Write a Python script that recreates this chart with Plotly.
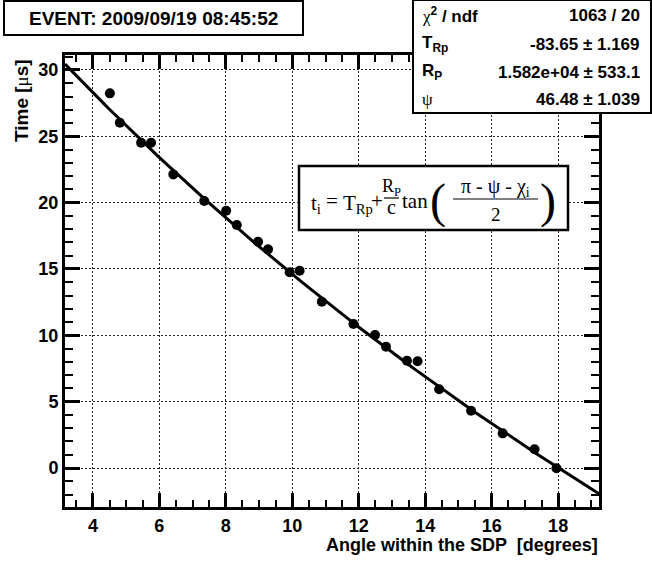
import numpy as np
import plotly.graph_objects as go

# ---- data ----
angle_deg = [4.51, 4.81, 5.45, 5.75, 6.42, 7.35, 8.01, 8.33, 8.97, 9.27, 9.92, 10.22,
             10.89, 11.84, 12.49, 12.82, 13.45, 13.77, 14.42, 15.38, 16.33, 17.29, 17.95]
time_us = [28.24, 26.02, 24.52, 24.52, 22.13, 20.12, 19.39, 18.31, 17.05, 16.48, 14.75, 14.87,
           12.53, 10.85, 10.02, 9.14, 8.09, 8.04, 5.93, 4.32, 2.61, 1.41, -0.02]

# fit parameters (from stats box)
T_Rp = -83.65
R_p = 1.582e4
psi = 46.48
c_m_per_us = 299.792458

stat_labels = ["<span style='font-family:Liberation Serif;font-weight:normal'>χ</span><sup>2</sup> / ndf",
               "T<sub>Rp</sub>", "R<sub>P</sub>",
               "<span style='font-family:Liberation Serif;font-weight:normal'>ψ</span>"]
stat_values = ["1063 / 20", "-83.65 ± 1.169", "1.582e+04 ± 533.1", "46.48 ± 1.039"]

x_ticks = [4, 6, 8, 10, 12, 14, 16, 18]
y_ticks = [0, 5, 10, 15, 20, 25, 30]
x_range = [3.16, 19.23]
y_range = [-2.94, 31.13]

# fit curve from the fitted parameters
xf = np.linspace(x_range[0], x_range[1], 300)
yf = T_Rp + R_p / c_m_per_us * np.tan(np.radians((180.0 - psi - xf) / 2.0))

W, H = 652, 561
L, R, T, B = 65, 599, 55, 507


def PX(p):
    return (p - L) / (R - L)


def PY(p):
    return (B - p) / (B - T)


fig = go.Figure()
fig.add_trace(go.Scatter(x=xf, y=yf, mode="lines", line=dict(color="black", width=3),
                         showlegend=False, hoverinfo="skip"))
fig.add_trace(go.Scatter(x=angle_deg, y=time_us, mode="markers",
                         marker=dict(color="black", size=10), showlegend=False))

axis_common = dict(
    showline=True, linecolor="black", linewidth=3, mirror="allticks",
    ticks="inside", tickwidth=3, tickcolor="black",
    showgrid=True, gridcolor="#222", gridwidth=1, griddash="2px,2px",
    zeroline=False,
    tickfont=dict(family="Liberation Sans", size=18, color="black", weight="bold"),
)

fig.update_xaxes(range=x_range, tickvals=x_ticks, ticklen=14,
                 minor=dict(dtick=0.5, tick0=0, ticks="inside", ticklen=7, tickwidth=2,
                            tickcolor="black", showgrid=False),
                 **axis_common)
fig.update_yaxes(range=y_range, tickvals=y_ticks, ticklen=15,
                 minor=dict(dtick=1, tick0=0, ticks="inside", ticklen=8, tickwidth=2,
                            tickcolor="black", showgrid=False),
                 **axis_common)

shapes = []
annotations = []


def note(x, y, text, size, family="Liberation Sans", weight="normal", xanchor="center",
         yanchor="middle", angle=0):
    annotations.append(dict(xref="paper", yref="paper", x=PX(x), y=PY(y), showarrow=False,
                            text=text, xanchor=xanchor, yanchor=yanchor, textangle=angle,
                            borderpad=0,
                            font=dict(family=family, size=size, color="black", weight=weight)))


def box(x0, x1, y0, y1, width=2):
    shapes.append(dict(type="rect", xref="paper", yref="paper", x0=PX(x0), x1=PX(x1),
                       y0=PY(y1), y1=PY(y0), line=dict(color="black", width=width),
                       fillcolor="white", layer="above"))


def hline(x0, x1, y, width=1.2):
    shapes.append(dict(type="line", xref="paper", yref="paper", x0=PX(x0), x1=PX(x1),
                       y0=PY(y), y1=PY(y), line=dict(color="black", width=width), layer="above"))


# Event box
box(4, 303, 1, 35)
note(153, 18, "EVENT: 2009/09/19 08:45:52", 19, weight="bold")

# Stats box
box(413, 651, 0, 113)
row_y = [15, 44, 72, 99]
for lab, val, ry in zip(stat_labels, stat_values, row_y):
    note(421, ry, lab, 17, weight="bold", xanchor="left")
    note(641, ry, val, 17, weight="bold", xanchor="right")

# Formula box
box(299, 568, 166, 230, width=2.5)
serif = "Liberation Serif"
note(310, 204, "t<sub>i</sub>", 21, family=serif, xanchor="left")
note(332, 201, "=", 21, family=serif)
note(342, 204, "T<sub>Rp</sub>", 21, family=serif, xanchor="left")
note(377, 201, "+", 21, family=serif)
note(391, 187, "R<sub>P</sub>", 18, family=serif)
hline(384, 399, 198)
note(391, 207, "c", 20, family=serif)
note(401, 201, "tan", 21, family=serif, xanchor="left")
note(438, 201, "(", 48, family=serif)
note(495, 187, "π - ψ - χ<sub>i</sub>", 20, family=serif)
hline(453, 538, 199)
note(496, 214, "2", 19, family=serif)
note(548, 201, ")", 48, family=serif)

# Axis titles
note(599, 545, "Angle within the SDP  [degrees]", 18, weight="bold", xanchor="right")
note(21, 101, "Time [<span style='font-family:Liberation Serif;font-weight:normal'>μ</span>s]",
     19, weight="bold", angle=-90)

fig.update_layout(
    width=W, height=H, autosize=False,
    margin=dict(l=L, r=W - R, t=T, b=H - B, pad=0),
    paper_bgcolor="white", plot_bgcolor="white",
    shapes=shapes, annotations=annotations,
    showlegend=False, hovermode=False,
)

fig.write_html("out.html",
               config={"displayModeBar": False, "staticPlot": True},
               post_script="document.body.style.margin='0';document.body.style.padding='0';"
                           "document.body.style.overflow='hidden';")
